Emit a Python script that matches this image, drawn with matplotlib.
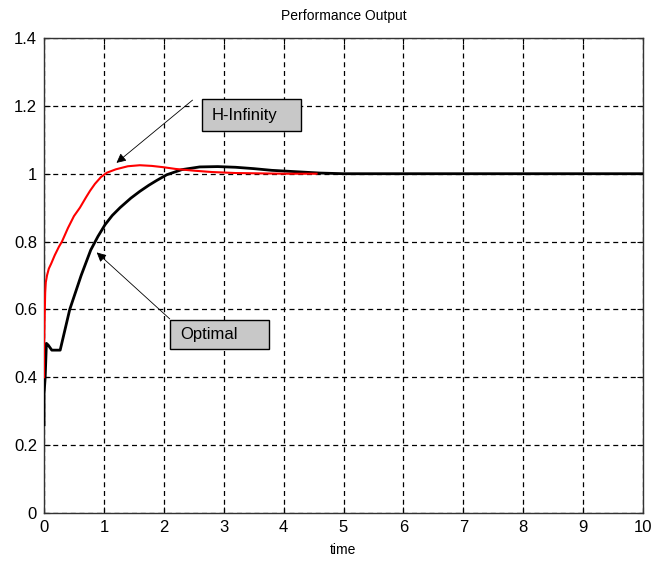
import matplotlib
matplotlib.use("Agg")
import matplotlib.pyplot as plt
from matplotlib.patches import Rectangle

plt.rcParams['font.family'] = ['Liberation Sans', 'DejaVu Sans']

# H-Infinity response (red)
t_hinf = [0.0, 0.0, 0.01, 0.02, 0.03, 0.05, 0.08, 0.12, 0.18, 0.25, 0.3, 0.4, 0.5,
          0.6, 0.7, 0.77, 0.85, 0.95, 1.05, 1.2, 1.4, 1.6, 1.8, 2.0, 2.2, 2.5,
          2.8, 3.2, 3.6, 4.0, 4.55]
y_hinf = [0.40, 0.48, 0.57, 0.65, 0.68, 0.70, 0.72, 0.735, 0.76, 0.785, 0.80, 0.84, 0.875,
          0.90, 0.93, 0.95, 0.97, 0.99, 1.003, 1.013, 1.022, 1.025, 1.023, 1.019, 1.014, 1.009,
          1.005, 1.002, 1.001, 1.0, 1.0]

# Optimal response (black)
t_opt = [0.0, 0.0, 0.02, 0.04, 0.07, 0.13, 0.2, 0.27, 0.35, 0.43, 0.62, 0.78,
         0.9, 1.02, 1.14, 1.27, 1.45, 1.6, 1.75, 1.88, 2.05, 2.3, 2.6, 2.9,
         3.2, 3.5, 3.8, 4.2, 4.6, 5.0, 6.0, 7.0, 8.0, 9.0, 10.0]
y_opt = [0.26, 0.35, 0.40, 0.50, 0.495, 0.48, 0.48, 0.48, 0.54, 0.60, 0.70, 0.775,
         0.815, 0.85, 0.877, 0.90, 0.928, 0.948, 0.966, 0.98, 0.997, 1.012, 1.02, 1.021,
         1.019, 1.015, 1.01, 1.006, 1.002, 1.0, 1.0, 1.0, 1.0, 1.0, 1.0]

x_ticks = [0, 1, 2, 3, 4, 5, 6, 7, 8, 9, 10]
y_ticks = [0, 0.2, 0.4, 0.6, 0.8, 1.0, 1.2, 1.4]
y_tick_labels = ['0', '0.2', '0.4', '0.6', '0.8', '1', '1.2', '1.4']

fig = plt.figure(figsize=(6.52, 5.61), dpi=100)
ax = fig.add_axes([44/652, 48/561, (643-44)/652, (513-38)/561])

ax.plot(t_opt, y_opt, color='black', lw=2.0, zorder=3)
ax.plot(t_hinf, y_hinf, color='red', lw=1.5, zorder=4)

ax.set_xlim(0, 10)
ax.set_ylim(0, 1.4)
ax.set_xticks(x_ticks)
ax.set_yticks(y_ticks)
ax.set_yticklabels(y_tick_labels)
ax.tick_params(direction='in', length=4, labelsize=12, top=True, right=True)
ax.tick_params(axis='y', pad=5)
ax.tick_params(axis='x', pad=5)
ax.grid(True, color='black', linestyle=(0, (4, 3)), linewidth=0.9)
for s in ax.spines.values():
    s.set_color('#333333')
    s.set_linewidth(1.0)

ax.set_title('Performance Output', fontsize=10, pad=13)
ax.set_xlabel('time', fontsize=10, labelpad=6)

# annotation boxes (data coords)
ax.add_patch(Rectangle((2.63, 1.126), 1.66, 0.094, facecolor='#c8c8c8',
                       edgecolor='black', lw=1.0, zorder=6))
ax.text(2.80, 1.172, 'H-Infinity', fontsize=12, va='center', ha='left', zorder=7)
ax.add_patch(Rectangle((2.11, 0.483), 1.65, 0.086, facecolor='#c8c8c8',
                       edgecolor='black', lw=1.0, zorder=6))
ax.text(2.28, 0.525, 'Optimal', fontsize=12, va='center', ha='left', zorder=7)

arrow = dict(arrowstyle='-|>', color='black', lw=0.6, shrinkA=0, shrinkB=0,
             mutation_scale=14)
ax.annotate('', xy=(1.21, 1.032), xytext=(2.48, 1.217), arrowprops=arrow, zorder=6)
ax.annotate('', xy=(0.88, 0.768), xytext=(2.10, 0.572), arrowprops=arrow, zorder=6)

fig.savefig('out.png', dpi=100)
